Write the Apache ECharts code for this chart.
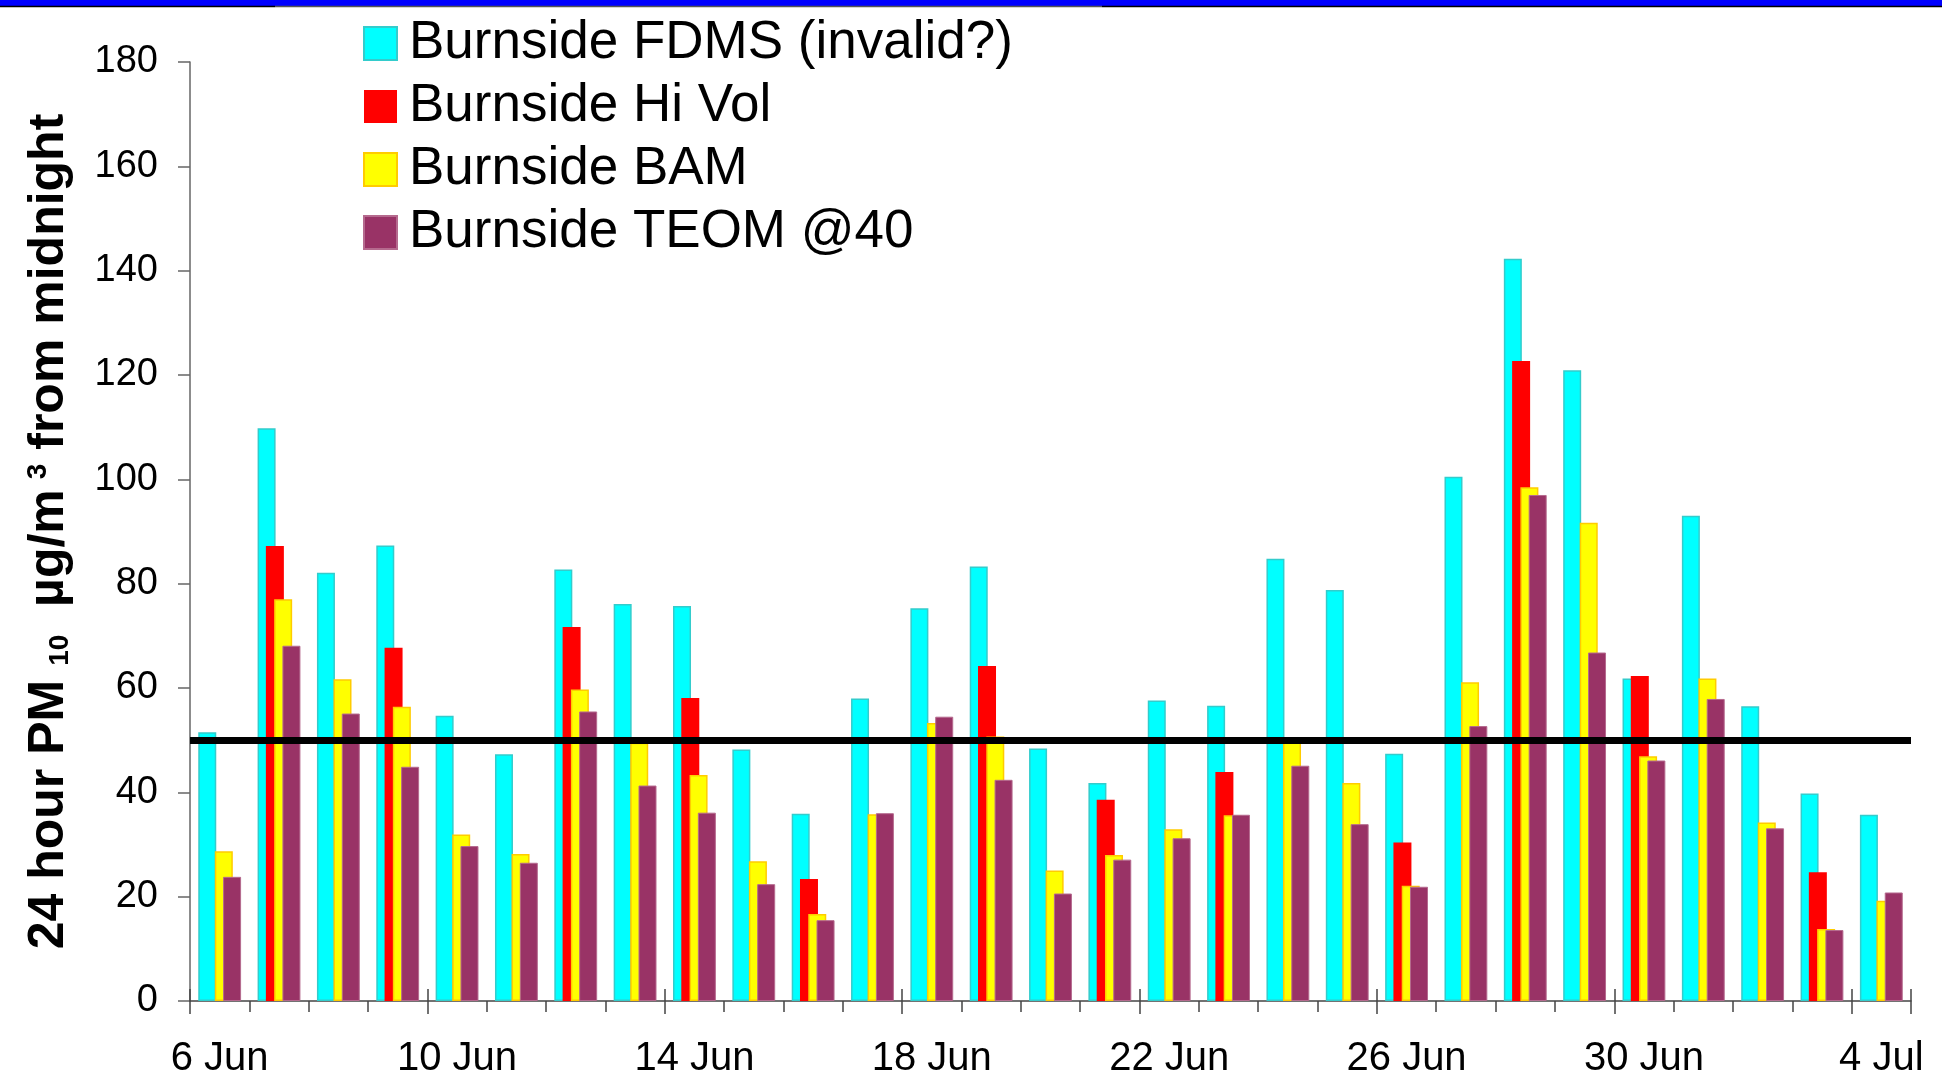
<!DOCTYPE html>
<html>
<head>
<meta charset="utf-8">
<script src="https://cdn.jsdelivr.net/npm/echarts@6/dist/echarts.min.js"></script>
<style>
  html, body { margin: 0; padding: 0; background: #ffffff; }
  #chart { width: 1942px; height: 1079px; }
</style>
</head>
<body>
<div id="chart"></div>
<script>
// Daily 24-hour PM10 at Burnside, 6 June to 4 July
const categories = [
  '6 Jun', '7 Jun', '8 Jun', '9 Jun', '10 Jun', '11 Jun', '12 Jun', '13 Jun',
  '14 Jun', '15 Jun', '16 Jun', '17 Jun', '18 Jun', '19 Jun', '20 Jun', '21 Jun',
  '22 Jun', '23 Jun', '24 Jun', '25 Jun', '26 Jun', '27 Jun', '28 Jun', '29 Jun',
  '30 Jun', '1 Jul', '2 Jul', '3 Jul', '4 Jul'
];

const fdms = [51.5, 109.8, 82.1, 87.3, 54.7, 47.3, 82.7, 76.1, 75.7, 48.2, 35.9, 58.0, 75.3, 83.3, 48.4,
  41.8, 57.6, 56.6, 84.8, 78.8, 47.4, 100.5, 142.3, 120.9, 61.8, 93.0, 56.5, 39.8, 35.7];

const hiVol = [null, 87.2, null, 67.7, null, null, 71.7, null, 58.1, null, 23.4, null, null, 64.2, null,
  38.6, null, 43.9, null, null, 30.4, null, 122.7, null, 62.3, null, null, 24.7, null];

const bam = [28.7, 77.0, 61.7, 56.4, 31.9, 28.2, 59.7, 49.5, 43.3, 26.8, 16.7, 35.8, 53.3, 50.7, 25.0,
  28.0, 32.9, 35.6, 49.7, 41.8, 22.1, 61.1, 98.5, 91.7, 46.9, 61.8, 34.2, 13.8, 19.2];

const teom = [23.8, 68.1, 55.1, 44.9, 29.7, 26.5, 55.5, 41.3, 36.1, 22.4, 15.5, 36.0, 54.5, 42.4, 20.6,
  27.1, 31.2, 35.7, 45.1, 33.9, 21.9, 52.7, 97.0, 66.8, 46.1, 57.9, 33.1, 13.6, 20.8];

const seriesNames = ['Burnside FDMS (invalid?)', 'Burnside Hi Vol', 'Burnside BAM', 'Burnside TEOM @40'];

const yTicks = { min: 0, max: 180, interval: 20 };
const limitValue = 50;

const FONT = '"Liberation Sans", Arial, Helvetica, sans-serif';

const chart = echarts.init(document.getElementById('chart'), null, { renderer: 'canvas' });

const barCommon = {
  type: 'bar',
  xAxisIndex: 0,
  yAxisIndex: 0,
  barWidth: 18,
  barGap: '-54%',
  animation: false
};

const hiddenAxisBase = {
  type: 'category',
  data: categories,
  gridIndex: 0,
  position: 'bottom',
  offset: 0,
  boundaryGap: true,
  axisLine: { show: false },
  axisLabel: { show: false },
  splitLine: { show: false }
};

chart.setOption({
  backgroundColor: '#ffffff',
  animation: false,
  textStyle: { fontFamily: FONT },
  graphic: [
    { type: 'rect', left: 0, top: 0, shape: { x: 0, y: 0, width: 1942, height: 6 }, style: { fill: '#0000ff' }, z: 100 },
    { type: 'line', shape: { x1: 0, y1: 6.5, x2: 275, y2: 6.5 }, style: { stroke: '#000000', lineWidth: 1.5 }, z: 100 },
    { type: 'line', shape: { x1: 275, y1: 6.5, x2: 1102, y2: 6.5 }, style: { stroke: '#555555', lineWidth: 1.5 }, z: 100 },
    { type: 'line', shape: { x1: 1102, y1: 6.5, x2: 1942, y2: 6.5 }, style: { stroke: '#000000', lineWidth: 1.5 }, z: 100 }
  ],
  legend: {
    orient: 'vertical',
    left: 363,
    top: 17,
    padding: 0,
    itemWidth: 33,
    itemHeight: 33,
    itemGap: 10,
    icon: 'rect',
    data: seriesNames,
    textStyle: {
      fontFamily: FONT,
      fontSize: 53,
      color: '#000000',
      padding: [0, 0, 0, 7]
    }
  },
  grid: {
    left: 190,
    right: 31,
    top: 62,
    bottom: 76,
    containLabel: false
  },
  xAxis: [
    {
      type: 'category',
      data: categories,
      gridIndex: 0,
      position: 'bottom',
      boundaryGap: true,
      axisLine: { show: true, lineStyle: { color: '#444444', width: 1.5 } },
      axisTick: { show: true, interval: 0, length: 11, inside: false, lineStyle: { color: '#444444', width: 1.5 } },
      axisLabel: {
        interval: 3,
        margin: 38,
        fontFamily: FONT,
        fontSize: 40,
        color: '#000000'
      },
      splitLine: { show: false }
    },
    Object.assign({}, hiddenAxisBase, {
      axisTick: { show: true, interval: 3, length: 13, inside: false, lineStyle: { color: '#444444', width: 1.5 } }
    }),
    Object.assign({}, hiddenAxisBase, {
      axisTick: { show: true, interval: 3, length: 12, inside: true, lineStyle: { color: '#444444', width: 1.5 } }
    })
  ],
  yAxis: {
    type: 'value',
    min: yTicks.min,
    max: yTicks.max,
    interval: yTicks.interval,
    axisLine: { show: true, lineStyle: { color: '#666666', width: 1.5 } },
    axisTick: { show: true, length: 12, inside: false, lineStyle: { color: '#666666', width: 1.5 } },
    axisLabel: {
      margin: 32,
      fontFamily: FONT,
      fontSize: 38,
      color: '#000000'
    },
    splitLine: { show: false },
    name: '{a|24 hour PM}{s|10}{a|  \u00b5g/m}{p|3}{a| from midnight}',
    nameLocation: 'middle',
    nameRotate: 90,
    nameGap: 116,
    nameTextStyle: {
      fontFamily: FONT,
      rich: {
        a: { fontFamily: FONT, fontSize: 50, fontWeight: 'bold', color: '#000000', lineHeight: 50, verticalAlign: 'middle' },
        s: { fontFamily: FONT, fontSize: 28, fontWeight: 'bold', color: '#000000', lineHeight: 50, verticalAlign: 'bottom', padding: [0, 0, 0, 14] },
        p: { fontFamily: FONT, fontSize: 28, fontWeight: 'bold', color: '#000000', lineHeight: 50, verticalAlign: 'top', padding: [0, 0, 0, 10] }
      }
    }
  },
  series: [
    Object.assign({}, barCommon, {
      name: seriesNames[0],
      data: fdms,
      itemStyle: { color: '#00ffff', borderColor: '#33cccc', borderWidth: 1.5 }
    }),
    Object.assign({}, barCommon, {
      name: seriesNames[1],
      data: hiVol,
      itemStyle: { color: '#ff0000', borderColor: '#ff0000', borderWidth: 0 }
    }),
    Object.assign({}, barCommon, {
      name: seriesNames[2],
      data: bam,
      itemStyle: { color: '#ffff00', borderColor: '#ffcc00', borderWidth: 1.5 }
    }),
    Object.assign({}, barCommon, {
      name: seriesNames[3],
      data: teom,
      itemStyle: { color: '#993366', borderColor: '#b56a8e', borderWidth: 1 },
      markLine: {
        silent: true,
        symbol: ['none', 'none'],
        label: { show: false },
        lineStyle: { color: '#000000', width: 7, type: 'solid' },
        emphasis: { disabled: true },
        data: [{ yAxis: limitValue }]
      }
    })
  ]
});
</script>
</body>
</html>
